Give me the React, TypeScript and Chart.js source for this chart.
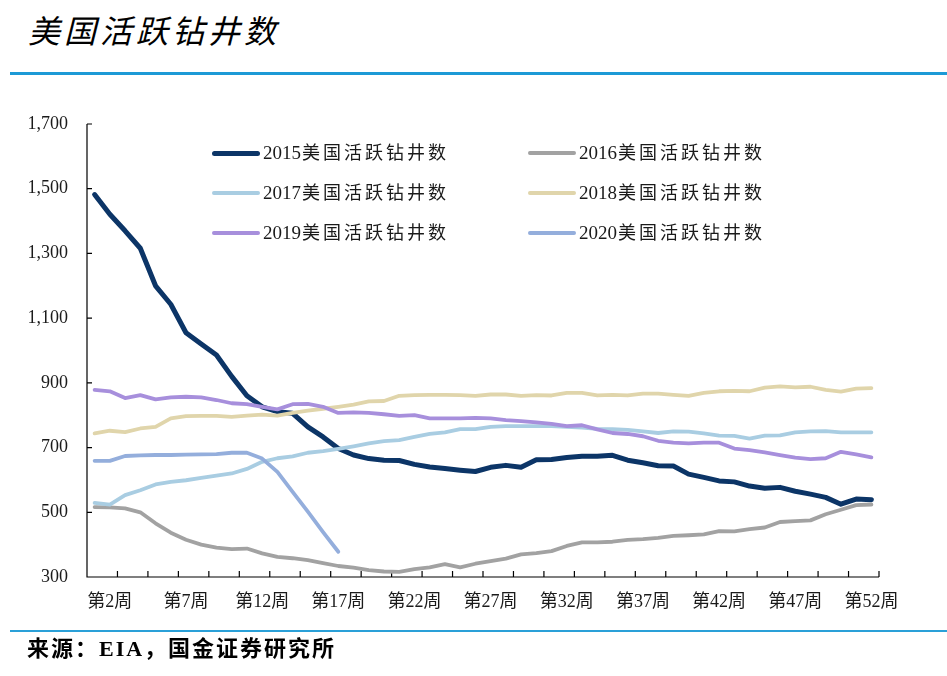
import React, { useEffect, useRef } from "react";
import { Chart, registerables } from "chart.js";

Chart.register(...registerables);

// ---------- data ----------
const weeks: string[] = [
  "第1周","第2周","第3周","第4周","第5周","第6周","第7周","第8周","第9周","第10周",
  "第11周","第12周","第13周","第14周","第15周","第16周","第17周","第18周","第19周","第20周",
  "第21周","第22周","第23周","第24周","第25周","第26周","第27周","第28周","第29周","第30周",
  "第31周","第32周","第33周","第34周","第35周","第36周","第37周","第38周","第39周","第40周",
  "第41周","第42周","第43周","第44周","第45周","第46周","第47周","第48周","第49周","第50周",
  "第51周","第52周",
];
const labeledWeeks: string[] = ["第2周","第7周","第12周","第17周","第22周","第27周","第32周","第37周","第42周","第47周","第52周"];
const yTickValues: number[] = [300, 500, 700, 900, 1100, 1300, 1500, 1700];

const s2015: number[] = [1482,1421,1370,1316,1200,1143,1055,1020,986,920,860,826,811,806,764,733,697,677,666,661,660,648,640,635,630,626,639,645,639,662,663,669,673,673,676,661,653,644,643,618,608,597,594,581,574,577,565,556,546,525,541,539];
const s2016: number[] = [516,515,512,500,466,437,415,400,391,386,388,373,362,358,352,343,334,329,321,317,316,324,330,340,330,341,349,357,370,374,380,396,407,407,409,415,417,421,427,429,432,442,441,448,453,470,473,475,494,508,522,524];
const s2017: number[] = [529,524,553,568,586,594,599,606,613,620,634,656,667,673,684,689,696,704,713,720,723,733,742,747,757,757,764,766,766,766,766,764,762,758,757,755,750,745,750,749,744,737,736,728,737,738,747,750,751,747,747,747];
const s2018: number[] = [744,752,748,759,764,790,797,798,798,795,799,802,799,807,814,820,826,833,843,844,860,862,863,863,862,860,864,864,860,862,861,869,869,861,863,861,867,867,863,860,869,874,875,874,885,889,886,888,878,873,882,884];
const s2019: number[] = [878,874,853,862,849,855,857,855,847,837,834,826,818,834,835,826,807,809,807,803,798,800,790,790,790,792,790,785,782,778,773,766,769,756,745,742,735,721,715,713,715,715,697,692,685,677,669,664,667,687,679,670];
const s2020: number[] = [659,659,674,676,677,677,678,679,680,684,684,666,625,563,502,439,378];

const seriesNames: string[] = ["2015美国活跃钻井数","2016美国活跃钻井数","2017美国活跃钻井数","2018美国活跃钻井数","2019美国活跃钻井数","2020美国活跃钻井数"];
const seriesColors: string[] = ["#0c3567","#a2a2a2","#a9cde2","#e0d5ab","#a78fdc","#94aedc"];
const seriesWidths: number[] = [5, 3.8, 3.8, 3.8, 3.8, 3.8];

const FONT = '"Liberation Serif", "Noto Sans CJK SC", serif';

const axesPlugin = {
  id: "inwardAxes",
  beforeDatasetsDraw(chart: any) {
    const { ctx, chartArea, scales } = chart;
    const { left, right, top, bottom } = chartArea;
    const x = scales.x;
    const y = scales.y;
    ctx.save();
    ctx.strokeStyle = "#000";
    ctx.lineWidth = 1.2;
    ctx.beginPath();
    ctx.moveTo(left, top);
    ctx.lineTo(left, bottom);
    ctx.lineTo(right, bottom);
    y.ticks.forEach((t: any) => {
      const py = y.getPixelForValue(t.value);
      ctx.moveTo(left, py);
      ctx.lineTo(left + 5, py);
    });
    const half = (x.getPixelForValue(1) - x.getPixelForValue(0)) / 2;
    for (let k = 0; k <= weeks.length; k += 2) {
      const px = x.getPixelForValue(k) - half;
      ctx.moveTo(px, bottom);
      ctx.lineTo(px, bottom - 6);
    }
    ctx.stroke();
    ctx.restore();
  },
};

export default function App() {
  const canvasRef = useRef<HTMLCanvasElement | null>(null);

  useEffect(() => {
    const canvas = canvasRef.current;
    if (!canvas) return;
    const allSeries = [s2015, s2016, s2017, s2018, s2019, s2020];
    const chart = new Chart(canvas, {
      type: "line",
      data: {
        labels: weeks,
        datasets: allSeries.map((d, i) => ({
          label: seriesNames[i],
          data: d,
          borderColor: seriesColors[i],
          backgroundColor: seriesColors[i],
          borderWidth: seriesWidths[i],
          pointRadius: 0,
          tension: 0,
          fill: false,
          borderCapStyle: "round" as const,
          borderJoinStyle: "round" as const,
          order: allSeries.length - i,
        })),
      },
      options: {
        responsive: false,
        animation: false,
        devicePixelRatio: 1,
        layout: { padding: { left: 0, top: 124, right: 68, bottom: 59 } },
        plugins: { legend: { display: false }, tooltip: { enabled: false } },
        scales: {
          x: {
            type: "category",
            offset: true,
            grid: { display: false, drawTicks: false },
            border: { display: false },
            ticks: {
              autoSkip: false,
              maxRotation: 0,
              minRotation: 0,
              padding: 14,
              color: "#1a1a1a",
              font: { family: FONT, size: 18 },
              callback: (_v: any, idx: number) => (labeledWeeks.includes(weeks[idx]) ? weeks[idx] : ""),
            },
            afterFit: (s: any) => {
              s.height = 40;
            },
          },
          y: {
            min: 300,
            max: 1700,
            grid: { display: false, drawTicks: false },
            border: { display: false },
            afterBuildTicks: (s: any) => {
              s.ticks = yTickValues.map((v) => ({ value: v }));
            },
            ticks: {
              padding: 19,
              color: "#1a1a1a",
              font: { family: FONT, size: 18 },
              callback: (v: any) => Number(v).toLocaleString("en-US"),
            },
            afterFit: (s: any) => {
              s.width = 87;
            },
          },
        },
      },
      plugins: [axesPlugin],
    });
    return () => chart.destroy();
  }, []);

  const legendPos = [
    { lx: 212, ty: 153 },
    { lx: 528, ty: 153 },
    { lx: 212, ty: 193 },
    { lx: 528, ty: 193 },
    { lx: 212, ty: 233 },
    { lx: 528, ty: 233 },
  ];

  return (
    <div style={{ position: "absolute", left: 0, top: 0, width: 947, height: 676, background: "#fff", overflow: "hidden" }}>
      <div
        style={{
          position: "absolute",
          left: 28,
          top: 7,
          fontFamily: '"Noto Sans CJK SC", sans-serif',
          fontStyle: "italic",
          fontSize: 32,
          letterSpacing: 4,
          color: "#000",
          lineHeight: "44px",
          whiteSpace: "nowrap",
        }}
      >
        美国活跃钻井数
      </div>
      <div style={{ position: "absolute", left: 10, top: 72, width: 937, height: 3, background: "#1d9ad6" }} />
      <canvas ref={canvasRef} width={947} height={676} style={{ position: "absolute", left: 0, top: 0, width: 947, height: 676 }} />
      {legendPos.map((p, i) => {
        const name = seriesNames[i];
        const yr = name.slice(0, 4);
        const rest = name.slice(4);
        const w = seriesWidths[i];
        return (
          <React.Fragment key={name}>
            <div
              style={{
                position: "absolute",
                left: p.lx,
                top: p.ty - w / 2,
                width: 48,
                height: w,
                borderRadius: w / 2,
                background: seriesColors[i],
              }}
            />
            <div
              style={{
                position: "absolute",
                left: p.lx + 51,
                top: p.ty - 13,
                height: 26,
                lineHeight: "26px",
                whiteSpace: "nowrap",
                color: "#1a1a1a",
                fontFamily: FONT,
              }}
            >
              <span style={{ fontSize: 19 }}>{yr}</span>
              <span style={{ fontSize: 18, letterSpacing: 3, marginLeft: 1 }}>{rest}</span>
            </div>
          </React.Fragment>
        );
      })}
      <div style={{ position: "absolute", left: 10, top: 630, width: 937, height: 2, background: "#2aa0d8" }} />
      <div
        style={{
          position: "absolute",
          left: 27,
          top: 636,
          fontFamily: FONT,
          fontWeight: "bold",
          fontSize: 22,
          letterSpacing: 2,
          lineHeight: "26px",
          color: "#000",
          whiteSpace: "nowrap",
        }}
      >
        来源：EIA，国金证券研究所
      </div>
    </div>
  );
}
